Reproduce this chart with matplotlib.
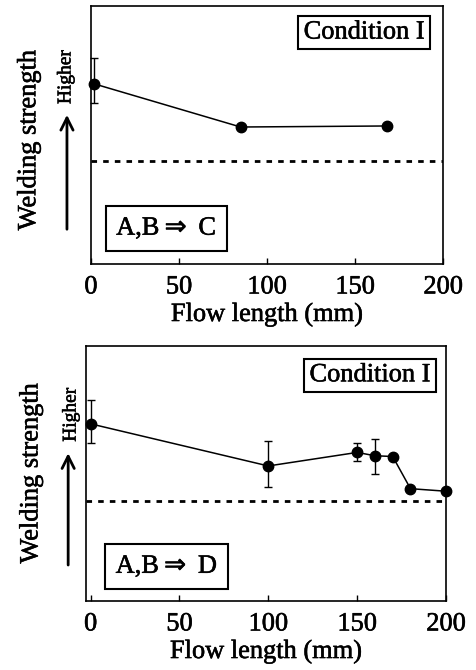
import matplotlib
matplotlib.use("Agg")
import matplotlib.pyplot as plt
import matplotlib.patheffects as pe
from matplotlib.text import Text

plt.rcParams['font.family'] = ['Liberation Serif', 'DejaVu Serif']
plt.rcParams['font.size'] = 19

# top panel: A,B => C
flow_c = [2, 85, 168]
strength_c = [6.98, 5.31, 5.35]
err_lo_c = [0.74, 0, 0]
err_hi_c = [1.0, 0, 0]
ref_c = 4.0

# bottom panel: A,B => D
flow_d = [0, 100, 150, 160, 170, 180, 200]
strength_d = [6.94, 5.29, 5.82, 5.69, 5.66, 4.40, 4.30]
err_lo_d = [0.76, 0.81, 0.32, 0.71, 0, 0, 0]
err_hi_d = [0.94, 0.98, 0.36, 0.67, 0, 0, 0]
ref_d = 3.9

xticks = [0, 50, 100, 150, 200]

fig = plt.figure(figsize=(4.76, 6.70), dpi=100)
ax1 = fig.add_axes([0.191, 0.606, 0.740, 0.385])
ax2 = fig.add_axes([0.181, 0.103, 0.756, 0.381])

panels = [
    (ax1, flow_c, strength_c, err_lo_c, err_hi_c, ref_c, "A,B$\\Rightarrow$ C", (0, 200),
     (-0.071, 0.725), (-0.068, 0.124, 0.589), (-0.175, 0.48), (0.776, 0.897), (0.214, 0.138)),
    (ax2, flow_d, strength_d, err_lo_d, err_hi_d, ref_d, "A,B$\\Rightarrow$ D", (-2.5, 200),
     (-0.042, 0.73), (-0.05, 0.13, 0.59), (-0.152, 0.5), (0.789, 0.884), (0.224, 0.135)),
]

for (ax, x, y, lo, hi, ref, combo, xlim, hpos, arr, ylpos, cpos, apos) in panels:
    ax.errorbar(x, y, yerr=[lo, hi], fmt='o-', color='black', ms=7.5, lw=1.1,
                elinewidth=1.0, capsize=3, capthick=1.0, clip_on=False, zorder=3)
    ax.axhline(ref, color='black', lw=2.0, linestyle=(0, (2, 2.2)))
    ax.set_xlim(*xlim)
    ax.set_ylim(0, 10)
    ax.set_xticks(xticks)
    ax.set_yticks([])
    ax.tick_params(axis='x', direction='in', length=4, width=1, pad=9)
    for s in ax.spines.values():
        s.set_linewidth(1.2)
    ax.set_xlabel("Flow length (mm)", labelpad=3.5)

    ax.text(ylpos[0], ylpos[1], "Welding strength", rotation=90, transform=ax.transAxes,
            ha='center', va='center')
    ax.text(hpos[0], hpos[1], "Higher", rotation=90, fontsize=14, transform=ax.transAxes,
            ha='center', va='center')
    ax.annotate('', xy=(arr[0], arr[2]), xytext=(arr[0], arr[1]), xycoords='axes fraction',
                arrowprops=dict(arrowstyle='->', lw=2, color='black', mutation_scale=22))

    ax.text(cpos[0], cpos[1], "Condition I", transform=ax.transAxes, ha='center', va='center',
            bbox=dict(boxstyle='square,pad=0.2', fc='white', ec='black', lw=1.5))
    ax.text(apos[0], apos[1], combo, transform=ax.transAxes, ha='center', va='center',
            bbox=dict(boxstyle='square,pad=0.4', fc='white', ec='black', lw=1.5))

# scanned print looks a little heavy, thicken glyphs slightly
for t in fig.findobj(Text):
    t.set_path_effects([pe.withStroke(linewidth=0.4, foreground='black')])

fig.savefig("out.png", dpi=100)
